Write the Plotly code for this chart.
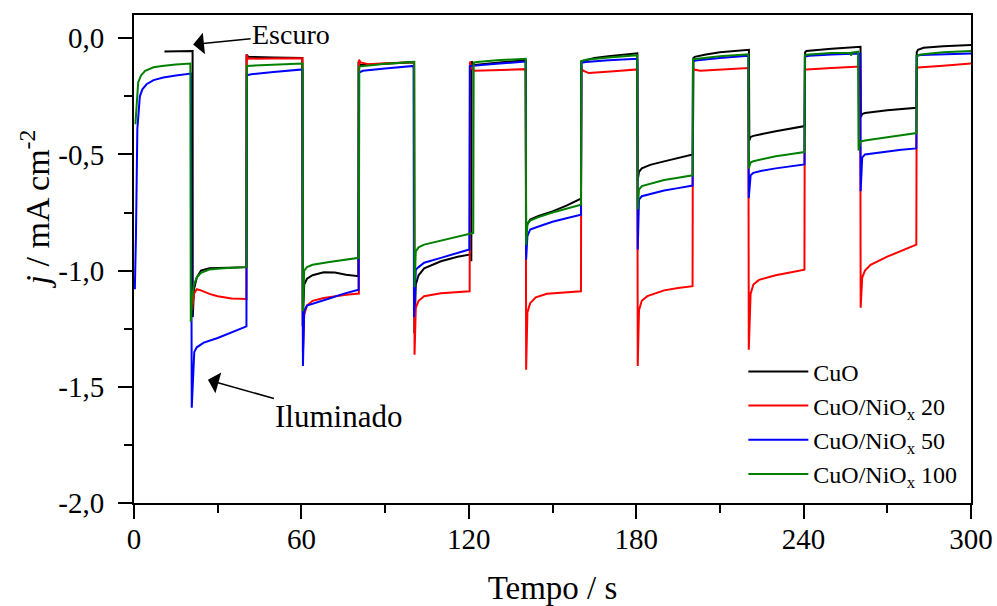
import plotly.graph_objects as go

# ---------------- data ----------------
t_cuo = [10.9, 21.0,
         21.05, 21.5, 22.5, 24, 27, 32, 40.3,
         40.35, 41, 50, 60.3,
         60.45, 61, 62, 64, 68, 72, 76, 80.4,
         80.45, 81, 90, 100.4,
         100.5, 101, 102, 104, 110, 116, 120.8, 120.9,
         121.0, 122, 130, 140.4,
         140.55, 141, 142, 145, 150, 155, 160.2,
         160.35, 161, 165, 170, 180.4,
         180.55, 181, 182, 185, 190, 195, 200.3,
         200.55, 201, 205, 210, 220.4,
         220.55, 221, 222, 230, 240.4,
         240.55, 241, 250, 260.4,
         260.55, 261, 262, 270, 280.4,
         280.55, 281, 283, 290, 300]
j_cuo = [-0.057, -0.055,
         -1.20, -1.08, -1.03, -1.0, -0.99, -0.987, -0.985,
         -0.07, -0.08, -0.083, -0.085,
         -1.24, -1.06, -1.035, -1.02, -1.007, -1.008, -1.018, -1.024,
         -0.10, -0.115, -0.11, -0.103,
         -1.27, -1.06, -1.02, -0.99, -0.96, -0.94, -0.93, -0.96,
         -0.10, -0.115, -0.105, -0.095,
         -0.83, -0.80, -0.78, -0.765, -0.745, -0.72, -0.69,
         -0.10, -0.098, -0.085, -0.078, -0.065,
         -0.61, -0.575, -0.56, -0.545, -0.53, -0.515, -0.50,
         -0.085, -0.08, -0.07, -0.06, -0.05,
         -0.44, -0.425, -0.42, -0.40, -0.378,
         -0.06, -0.055, -0.045, -0.037,
         -0.34, -0.326, -0.322, -0.31, -0.299,
         -0.06, -0.05, -0.041, -0.034, -0.029]

t_n20 = [20.8, 21.5, 22.5, 24, 27, 30, 35, 40.3,
         40.35, 40.8, 50, 60.4,
         60.55, 61, 62, 64, 68, 72, 76, 80.6,
         80.65, 81.2, 84, 90, 100.4,
         100.55, 101, 102, 104, 110, 115, 120.3,
         120.45, 121, 122, 130, 140.4,
         140.55, 141, 142, 144, 148, 154, 160.2,
         160.35, 161, 163, 166, 172, 180.4,
         180.55, 181, 182, 184, 190, 195, 200.2,
         200.35, 201, 203, 210, 220.2,
         220.35, 221, 222, 224, 230, 235, 240.3,
         240.45, 241, 250, 260.3,
         260.45, 261, 262, 264, 270, 275, 280.4,
         280.55, 281, 290, 300]
j_n20 = [-1.17, -1.10, -1.08, -1.085, -1.10, -1.11, -1.12, -1.122,
         -0.07, -0.088, -0.087, -0.086,
         -1.35, -1.19, -1.15, -1.13, -1.118, -1.11, -1.104, -1.099,
         -0.093, -0.104, -0.112, -0.108, -0.103,
         -1.362, -1.16, -1.13, -1.11, -1.097, -1.092, -1.089,
         -0.10, -0.13, -0.14, -0.137, -0.133,
         -1.427, -1.18, -1.14, -1.115, -1.10, -1.094, -1.089,
         -0.128, -0.14, -0.15, -0.148, -0.142, -0.134,
         -1.41, -1.17, -1.13, -1.11, -1.085, -1.075, -1.067,
         -0.128, -0.136, -0.14, -0.135, -0.128,
         -1.34, -1.10, -1.06, -1.04, -1.02, -1.008, -0.996,
         -0.133, -0.135, -0.128, -0.122,
         -1.16, -1.03, -1.0, -0.975, -0.94, -0.915, -0.888,
         -0.128, -0.126, -0.118, -0.109]

t_n50 = [0.3, 0.7, 1.2, 2.1, 3, 4.5, 7, 10.5, 15, 20.4,
         20.7, 21.2, 21.6, 22.5, 25, 30, 35, 40.3,
         40.45, 42, 50, 60.4,
         60.55, 61, 62, 65, 70, 75, 80.5,
         80.65, 82, 90, 100.2,
         100.35, 101, 102, 104, 110, 115, 120.2,
         120.35, 122, 130, 140.4,
         140.55, 141, 142, 145, 150, 155, 160.2,
         160.35, 162, 170, 180.4,
         180.55, 181, 182, 185, 190, 195, 200.2,
         200.35, 202, 210, 220.2,
         220.35, 221, 222, 225, 230, 235, 240.3,
         240.45, 242, 250, 260.3,
         260.45, 261, 262, 265, 270, 275, 280.4,
         280.55, 282, 290, 300]
j_n50 = [-1.08, -0.85, -0.39, -0.25, -0.22, -0.198, -0.18, -0.169, -0.16, -0.152,
         -1.59, -1.40, -1.35, -1.33, -1.31, -1.29, -1.265, -1.24,
         -0.159, -0.155, -0.145, -0.134,
         -1.41, -1.175, -1.15, -1.14, -1.12, -1.10, -1.082,
         -0.148, -0.14, -0.13, -0.119,
         -1.20, -0.996, -0.985, -0.966, -0.945, -0.928, -0.909,
         -0.12, -0.118, -0.11, -0.10,
         -0.953, -0.852, -0.823, -0.81, -0.79, -0.775, -0.759,
         -0.105, -0.102, -0.095, -0.088,
         -0.909, -0.694, -0.68, -0.67, -0.655, -0.645, -0.634,
         -0.098, -0.095, -0.085, -0.075,
         -0.687, -0.59, -0.579, -0.57, -0.56, -0.552, -0.543,
         -0.079, -0.075, -0.07, -0.066,
         -0.658, -0.514, -0.50, -0.495, -0.487, -0.48, -0.474,
         -0.076, -0.072, -0.07, -0.066]

t_n100 = [0.5, 1.0, 1.5, 2.5, 4, 7, 10, 15, 20.2,
          20.35, 20.8, 21.5, 22.5, 24, 27, 32, 40.3,
          40.45, 42, 50, 60.4,
          60.55, 61, 62, 64, 70, 75, 80.6,
          80.75, 82, 90, 100.4,
          100.55, 101, 102, 104, 110, 115, 121.6,
          121.75, 123, 130, 140.4,
          140.55, 141, 142, 145, 150, 155, 160.2,
          160.35, 162, 170, 180.4,
          180.55, 181, 182, 185, 190, 195, 200.2,
          200.35, 202, 210, 220.2,
          220.35, 221, 222, 225, 230, 235, 240.3,
          240.45, 242, 250, 256.8, 257, 257.3, 259.5,
          259.7, 260.3, 262, 265, 270, 275, 280.4,
          280.55, 282, 290, 300]
j_n100 = [-0.37, -0.25, -0.19, -0.16, -0.14, -0.125, -0.119, -0.113, -0.109,
          -1.22, -1.12, -1.06, -1.03, -1.01, -0.995, -0.99, -0.985,
          -0.119, -0.118, -0.114, -0.109,
          -1.175, -1.0, -0.985, -0.975, -0.963, -0.955, -0.945,
          -0.122, -0.12, -0.11, -0.102,
          -1.07, -0.917, -0.90, -0.888, -0.87, -0.855, -0.838,
          -0.105, -0.102, -0.095, -0.088,
          -0.89, -0.80, -0.785, -0.77, -0.75, -0.733, -0.716,
          -0.098, -0.093, -0.083, -0.073,
          -0.737, -0.651, -0.636, -0.625, -0.61, -0.60, -0.59,
          -0.091, -0.088, -0.078, -0.069,
          -0.56, -0.535, -0.529, -0.52, -0.508, -0.499, -0.49,
          -0.072, -0.07, -0.064, -0.062, -0.075, -0.062, -0.058,
          -0.483, -0.445, -0.44, -0.435, -0.425, -0.417, -0.408,
          -0.076, -0.07, -0.06, -0.055]

series_names = ["CuO", "CuO/NiO<sub>x</sub> 20", "CuO/NiO<sub>x</sub> 50", "CuO/NiO<sub>x</sub> 100"]
series_colors = ["#000000", "#ff0000", "#0000ff", "#008000"]

x_tickvals = [0, 60, 120, 180, 240, 300]
y_tickvals = [-2.0, -1.5, -1.0, -0.5, 0.0]
y_ticktext = ["-2,0", "-1,5", "-1,0", "-0,5", "0,0"]

FONT = "Liberation Serif"

fig = go.Figure()
for tt, jj, name, col in zip([t_cuo, t_n20, t_n50, t_n100],
                             [j_cuo, j_n20, j_n50, j_n100],
                             series_names, series_colors):
    fig.add_trace(go.Scatter(x=tt, y=jj, mode="lines", name=name,
                             line=dict(color=col, width=2)))

axis_common = dict(showgrid=False, zeroline=False, showline=True,
                   linecolor="black", linewidth=2, mirror=True,
                   ticks="outside", ticklen=14, tickwidth=2, tickcolor="black",
                   automargin=False,
                   tickfont=dict(family=FONT, size=29, color="black"))

fig.update_xaxes(range=[0, 300], tickmode="array", tickvals=x_tickvals,
                 ticklabelstandoff=-5,
                 minor=dict(dtick=30, tick0=0, ticks="outside", ticklen=8,
                            tickwidth=2, tickcolor="black"),
                 title=dict(text="Tempo / s", font=dict(family=FONT, size=33, color="black"),
                            standoff=22),
                 **axis_common)
fig.update_yaxes(range=[-2.0, 0.1], tickmode="array", tickvals=y_tickvals,
                 ticktext=y_ticktext, ticklabelstandoff=8,
                 minor=dict(dtick=0.25, tick0=0, ticks="outside", ticklen=8,
                            tickwidth=2, tickcolor="black"),
                 **axis_common)

fig.add_annotation(text="<i>j</i> / mA cm<sup>-2</sup>", textangle=-90,
                   xref="paper", yref="paper", x=-0.118, y=0.602,
                   xanchor="center", yanchor="middle", showarrow=False,
                   font=dict(family=FONT, size=34, color="black"))

fig.add_annotation(text="Escuro", x=21.2, y=-0.027, xref="x", yref="y",
                   ax=98, ay=-10, showarrow=True, arrowhead=1, arrowsize=2.4,
                   arrowwidth=1.5, arrowcolor="black",
                   font=dict(family=FONT, size=28, color="black"))
fig.add_annotation(text="Iluminado", x=26.5, y=-1.47, xref="x", yref="y",
                   ax=131, ay=37, showarrow=True, arrowhead=1, arrowsize=2.4,
                   arrowwidth=1.5, arrowcolor="black",
                   font=dict(family=FONT, size=31, color="black"))

fig.update_layout(
    width=997, height=606,
    margin=dict(l=134, r=26, t=15, b=103, autoexpand=False),
    paper_bgcolor="white", plot_bgcolor="white",
    separators=",.",
    showlegend=True,
    legend=dict(x=0.728, y=0.315, xanchor="left", yanchor="top",
                bgcolor="rgba(0,0,0,0)", borderwidth=0,
                font=dict(family=FONT, size=24, color="black"),
                itemwidth=60, tracegroupgap=0),
)

fig.write_html("out.html", config={"displayModeBar": False},
               post_script="document.body.style.margin='0';document.body.style.overflow='hidden';")
